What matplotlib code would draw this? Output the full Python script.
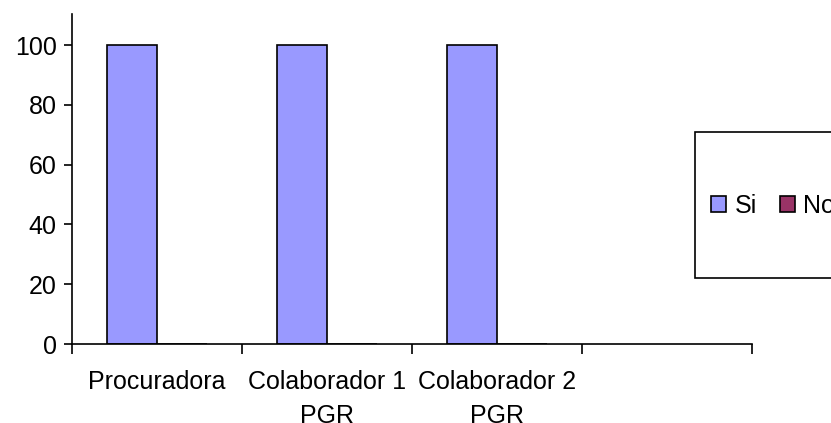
import matplotlib.pyplot as plt
import matplotlib.patches as mpatches
import numpy as np

# datos
categorias = ['Procuradora', 'Colaborador 1\nPGR', 'Colaborador 2\nPGR', '']
si = [100, 100, 100, np.nan]
no = [0, 0, 0, np.nan]

plt.rcParams['font.family'] = ['Liberation Sans', 'DejaVu Sans']

fig = plt.figure(figsize=(8.31, 4.23), dpi=100, facecolor='w')
ax = fig.add_axes([72 / 831, 1 - 344 / 423, 680 / 831, 330 / 423])

x = np.arange(len(categorias))
w = 50 / 170
ax.bar(x - w / 2, si, w, color='#9999FF', edgecolor='black', linewidth=1.2, label='Si')
ax.bar(x + w / 2, no, w, color='#993366', edgecolor='black', linewidth=1.2, label='No')

ax.set_xlim(-0.5, len(categorias) - 0.5)
ax.set_ylim(0, 110.4)
ax.set_yticks(range(0, 101, 20))
ax.set_xticks(x)
ax.set_xticklabels(categorias, fontsize=18, linespacing=1.5)
ax.set_xticks(np.arange(-0.5, len(categorias), 1), minor=True)
ax.tick_params(axis='x', which='major', length=0, pad=19)
ax.tick_params(axis='x', which='minor', length=7, width=1.2, direction='out')
ax.tick_params(axis='y', length=6, width=1.2, direction='out', labelsize=18, pad=5)

for s in ['top', 'right']:
    ax.spines[s].set_visible(False)
for s in ['left', 'bottom']:
    ax.spines[s].set_linewidth(1.2)

# caja de la leyenda
fig.patches.append(mpatches.Rectangle((695 / 831, 1 - 278 / 423), 200 / 831, 146 / 423,
                                      transform=fig.transFigure, facecolor='white',
                                      edgecolor='black', linewidth=1.2))
fig.legend(loc='center left', bbox_to_anchor=(711 / 831, 1 - 206 / 423), ncol=2,
           frameon=False, fontsize=18, handlelength=0.6, handleheight=0.6,
           handletextpad=0.35, columnspacing=0.9, borderpad=0, borderaxespad=0)

plt.savefig('out.png', dpi=100)
plt.close()
